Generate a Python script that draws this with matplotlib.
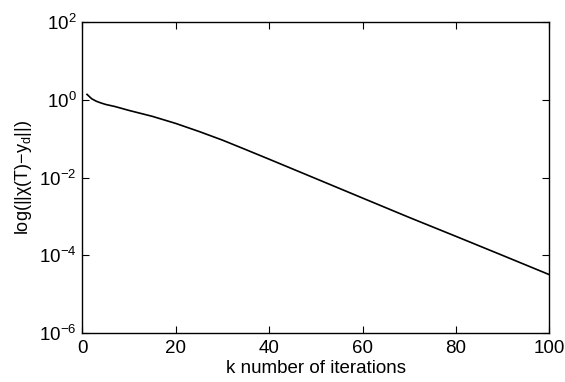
import numpy as np
import matplotlib
matplotlib.use('Agg')
import matplotlib.pyplot as plt

plt.rcParams['font.family'] = ['Liberation Sans', 'DejaVu Sans']
plt.rcParams['mathtext.fontset'] = 'custom'
plt.rcParams['mathtext.rm'] = 'Liberation Sans'
plt.rcParams['mathtext.it'] = 'Liberation Sans:italic'

# error norm at selected iterations
k = [1, 2, 3, 4, 5, 7, 10, 15, 20, 25, 30, 35, 40, 50, 60, 70, 80, 90, 100]
err = [1.40, 1.08, 0.93, 0.84, 0.77, 0.68, 0.54, 0.38, 0.25, 0.155, 0.093,
       0.053, 0.030, 9.5e-3, 3.0e-3, 9.5e-4, 3.1e-4, 1.0e-4, 3.2e-5]

xticks = [0, 20, 40, 60, 80, 100]
yticks = [1e-6, 1e-4, 1e-2, 1e0, 1e2]

fig = plt.figure(figsize=(5.65, 3.82), dpi=100)
ax = fig.add_axes([0.1457, 0.128, 0.8265, 0.8135])
ax.semilogy(k, err, color='black', lw=1.2)

ax.set_xlim(0, 100)
ax.set_ylim(1e-6, 1e2)
ax.set_xticks(xticks)
ax.set_yticks(yticks)
ax.yaxis.set_minor_locator(matplotlib.ticker.NullLocator())
ax.tick_params(direction='in', top=True, right=True, labelsize=13.5, length=5, width=0.8)
ax.tick_params(axis='x', pad=5)
ax.tick_params(axis='y', pad=4)
for s in ax.spines.values():
    s.set_linewidth(1.0)

ax.set_xlabel('k number of iterations', fontsize=13.5, labelpad=2)
ax.set_ylabel('log(||χ(T)−y$_\\mathregular{d}$||)', fontsize=13, labelpad=4)

fig.savefig('out.png', dpi=100)
